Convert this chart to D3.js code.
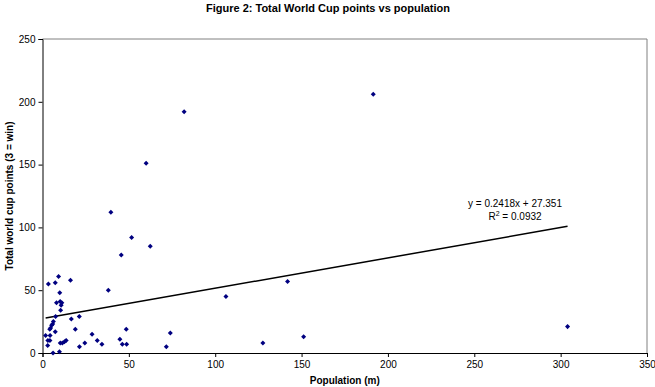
<!DOCTYPE html>
<html>
<head>
<meta charset="utf-8">
<script src="https://cdn.jsdelivr.net/npm/d3@7"></script>
<style>
  body { margin: 0; background: #fff; }
  svg { display: block; font-family: Arial, "Liberation Sans", sans-serif; }
</style>
</head>
<body>
<div id="chart"></div>
<script>
// population (m) and total world cup points
var population = [191.5, 82, 60, 39.6, 51.6, 62.4, 45.6, 38.1, 106.2, 141.9,
    304, 151.2, 127.6, 71.7, 74, 48.5, 44.8, 46.2, 48.7, 34.4,
    31.7, 28.7, 24.5, 21.4, 19, 21.3, 16.7, 16.2, 9.3, 7.4,
    3.4, 10, 8.1, 10.2, 11.2, 10.8, 10.5, 7.6, 6.3, 5.9,
    5.3, 4.7, 4.2, 7.4, 1.8, 4.4, 3.1, 4.3, 3, 6.1,
    9.8, 10.3, 11.5, 12.7, 13.7];
var points = [206, 192, 151, 112, 92, 85, 78, 50, 45, 57,
    21, 13, 8, 5, 16, 19, 11, 7, 7, 7,
    10, 15, 8, 5, 19, 29, 27, 58, 61, 56,
    55, 48, 40, 41, 40, 38, 34, 29, 25, 23,
    22, 20, 19, 17, 14, 14, 10, 10, 6, 0,
    1, 8, 8, 9, 10];
var xTicks = [0, 50, 100, 150, 200, 250, 300, 350];
var yTicks = [0, 50, 100, 150, 200, 250];
// trendline reported by the spreadsheet
var slope = 0.2418, intercept = 27.351;
var eqLabel = "y = 0.2418x + 27.351";

var width = 655, height = 387;
var margin = {left: 42.5, right: 8, top: 39, bottom: 34};

var svg = d3.select("#chart").append("svg")
    .attr("width", width)
    .attr("height", height);

var x = d3.scaleLinear().domain([0, 350]).range([margin.left, width - margin.right]);
var y = d3.scaleLinear().domain([0, 250]).range([height - margin.bottom, margin.top]);

// plot area frame (top/right in grey)
svg.append("path")
    .attr("d", "M" + x(0) + "," + y(250) + "H" + x(350) + "V" + y(0))
    .attr("fill", "none")
    .attr("stroke", "#808080")
    .attr("stroke-width", 1);

var xAxis = svg.append("g")
    .attr("transform", "translate(0," + y(0) + ")")
    .call(d3.axisBottom(x).tickValues(xTicks).tickSize(4).tickPadding(4));
var yAxis = svg.append("g")
    .attr("transform", "translate(" + x(0) + ",0)")
    .call(d3.axisLeft(y).tickValues(yTicks).tickSize(4).tickPadding(3));

[xAxis, yAxis].forEach(function (g) {
    g.select(".domain").attr("stroke", "#000");
    g.selectAll(".tick line").attr("stroke", "#000");
    g.selectAll(".tick text").attr("font-size", 10).attr("fill", "#000")
        .attr("font-family", "Arial, 'Liberation Sans', sans-serif");
});

// trendline
var xr = d3.extent(population);
svg.append("line")
    .attr("x1", x(xr[0])).attr("y1", y(slope * xr[0] + intercept))
    .attr("x2", x(xr[1])).attr("y2", y(slope * xr[1] + intercept))
    .attr("stroke", "#000")
    .attr("stroke-width", 1.5);

// markers
var diamond = d3.symbol().type(d3.symbolDiamond2).size(16);
svg.selectAll("path.pt")
    .data(population.map(function (p, i) { return [p, points[i]]; }))
    .enter().append("path")
    .attr("class", "pt")
    .attr("transform", function (d) { return "translate(" + x(d[0]) + "," + y(d[1]) + ")"; })
    .attr("d", diamond)
    .attr("fill", "#000080");

// equation labels
var eq = svg.append("g").attr("font-size", 10).attr("text-anchor", "middle");
eq.append("text").attr("x", 515).attr("y", 207).text(eqLabel);
var r2 = eq.append("text").attr("x", 515).attr("y", 220);
r2.append("tspan").text("R");
r2.append("tspan").attr("font-size", 7).attr("dy", -4).text("2");
r2.append("tspan").attr("dy", 4).text(" = 0.0932");

// titles
svg.append("text")
    .attr("x", 328).attr("y", 12)
    .attr("text-anchor", "middle")
    .attr("font-size", 11).attr("font-weight", "bold")
    .text("Figure 2: Total World Cup points vs population");

svg.append("text")
    .attr("x", (x(0) + x(350)) / 2).attr("y", 384)
    .attr("text-anchor", "middle")
    .attr("font-size", 10).attr("font-weight", "bold")
    .text("Population (m)");

svg.append("text")
    .attr("transform", "translate(13," + ((y(0) + y(250)) / 2) + ") rotate(-90)")
    .attr("text-anchor", "middle")
    .attr("font-size", 10).attr("font-weight", "bold")
    .text("Total world cup points (3 = win)");
</script>
</body>
</html>
